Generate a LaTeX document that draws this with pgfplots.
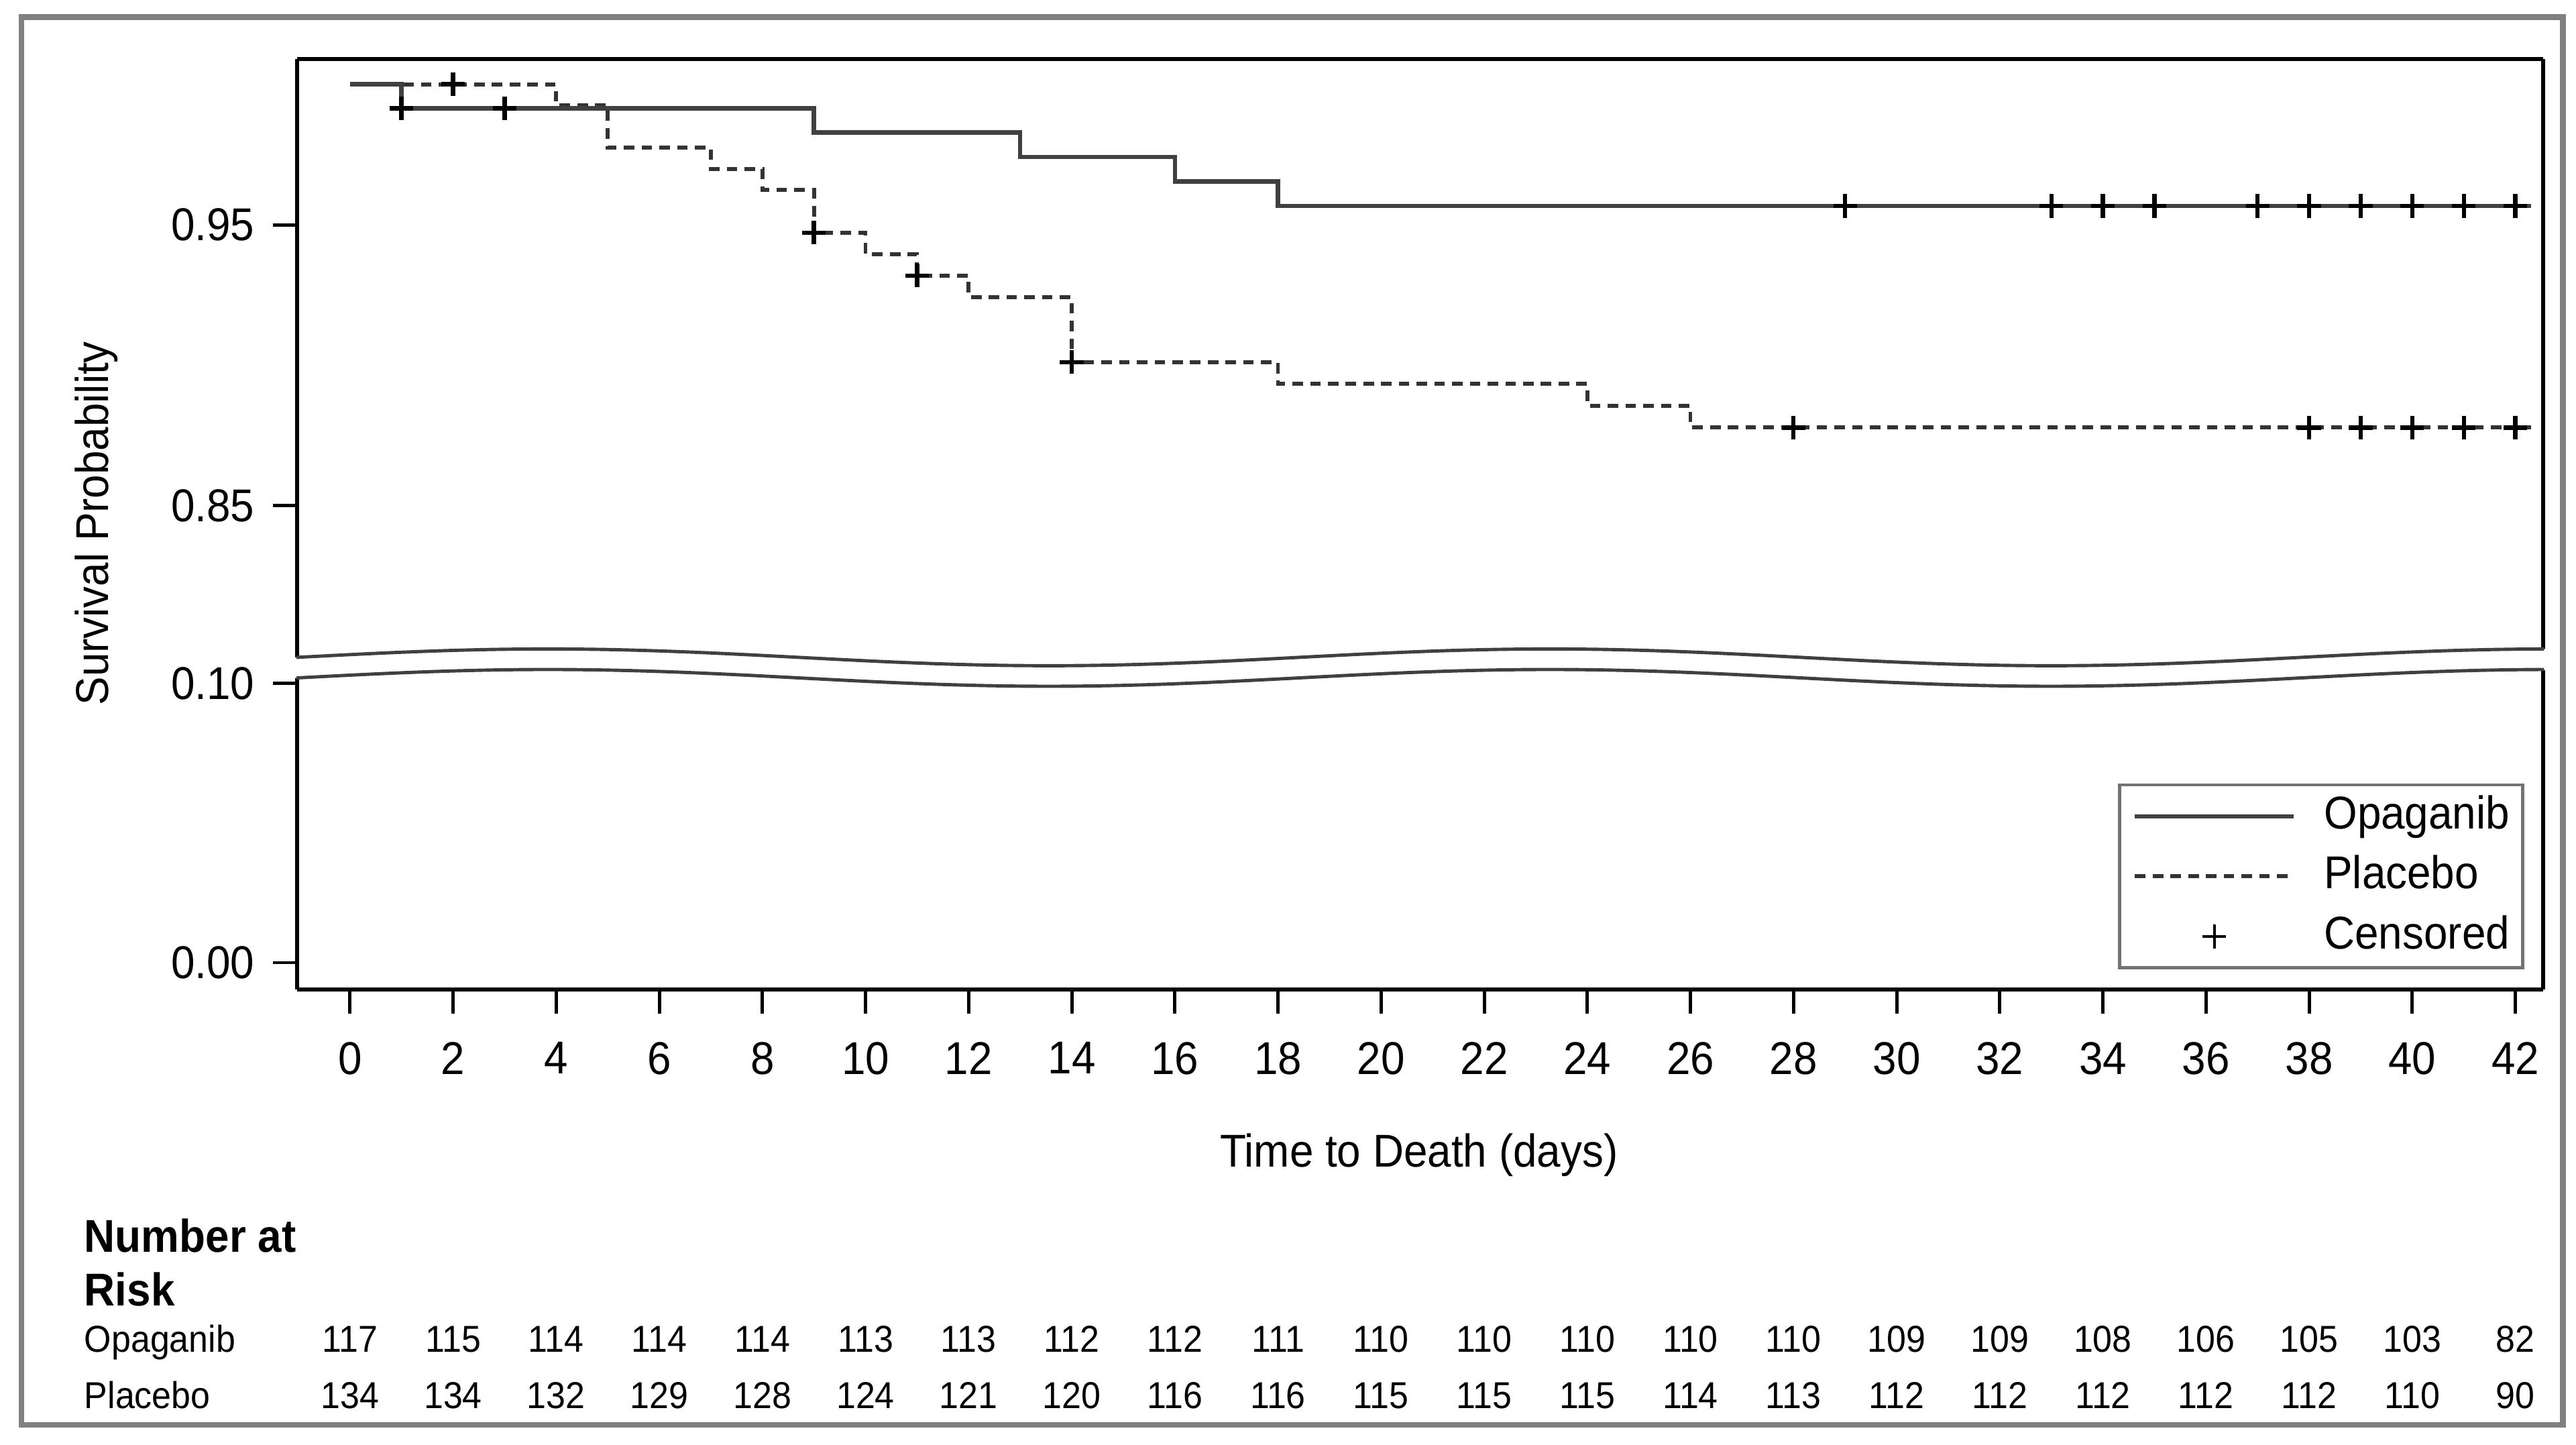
\documentclass[border=0pt]{standalone}
\usepackage{fontspec}
\setmainfont{Liberation Sans}[FakeStretch=0.93]
\usepackage{pgfplots}
\pgfplotsset{compat=1.18}
\newcommand{\axfont}{\fontsize{14}{16.8}\selectfont}
\newcommand{\tabfont}{\fontsize{11.4}{13.6}\selectfont}
\pgfplotsset{
  mylineleg/.style={legend image code/.code={\path[draw=none,fill=none] (0pt,-3.75pt) rectangle (48.3pt,3.75pt); \draw[##1] (0pt,0pt) -- (48.3pt,0pt);}},
  mymarkleg/.style={legend image code/.code={\path[draw=none,fill=none] (0pt,-3.75pt) rectangle (48.3pt,3.75pt); \draw[##1] plot coordinates {(24.15pt,0pt)};}},
}
\begin{document}
\begin{tikzpicture}[x=0.5pt,y=-0.5pt]
\useasboundingbox (0,0) rectangle (1568,879);
\fill[white] (0,0) rectangle (1568,879);
\draw[line width=1.75pt, color=black!50] (13,10.5) rectangle (1560,867);

% upper panel
\begin{axis}[
  at={(90.5pt,-200pt)}, anchor=south west,
  scale only axis, width=683.5pt, height=182pt,
  xmin=-1.02, xmax=42.54, ymin=0.79602, ymax=1.00895,
  axis x line*=top, axis y line*=box,
  xtick=\empty,
  ytick={0.85,0.95}, yticklabels={0.85,0.95},
  ytick pos=left,
  tick align=outside, major tick length=7.4pt,
  tick style={black, line width=1pt},
  axis line style={black, line width=1.2pt},
  yticklabel style={font=\axfont, inner sep=0pt, xshift=-5.5pt},
]
\addplot[const plot, black!80, line width=1.2pt, dash pattern=on 3.2pt off 2.2pt] coordinates {
(0,1.0) (4,0.99254) (5,0.97750) (7,0.96992) (8,0.96234) (9,0.94719) (10,0.93956)
(11,0.93192) (12,0.92422) (14,0.90111) (18,0.89334) (24,0.88557) (26,0.87780) (42.3,0.87780)};
\addplot[const plot, black!75, line width=1.3pt] coordinates {
(0,1.0) (1,0.99145) (9,0.98283) (13,0.97413) (16,0.96543) (18,0.95673) (42.3,0.95673)};
\addplot[only marks, black, mark=+, mark size=3.6pt, mark options={line width=1.3pt}] coordinates {
(1,0.99145) (3,0.99145) (29,0.95673) (33,0.95673) (34,0.95673) (35,0.95673) (37,0.95673)
(38,0.95673) (39,0.95673) (40,0.95673) (41,0.95673) (42,0.95673)};
\addplot[only marks, black, mark=+, mark size=3.6pt, mark options={line width=1.3pt}] coordinates {
(2,1.0) (9,0.94719) (11,0.93192) (14,0.90111) (28,0.87780) (38,0.87780) (39,0.87780)
(40,0.87780) (41,0.87780) (42,0.87780)};
\end{axis}

% lower panel
\begin{axis}[
  at={(90.5pt,-301pt)}, anchor=south west,
  scale only axis, width=683.5pt, height=97pt,
  xmin=-1.02, xmax=42.54, ymin=-0.00953, ymax=0.10465,
  axis x line*=bottom, axis y line*=box,
  xtick={0,2,...,42},
  ytick={0,0.1}, yticklabels={0.00,0.10},
  tick pos=left,
  tick align=outside, major tick length=7.4pt,
  tick style={black, line width=1pt},
  axis line style={black, line width=1.2pt},
  /pgf/number format/assume math mode=true,
  xticklabel style={font=\axfont, inner sep=0pt, yshift=-8.5pt},
  yticklabel style={font=\axfont, inner sep=0pt, xshift=-5.5pt},
  legend style={at={(0.99166,0.06186)}, anchor=south east, draw=black!55, line width=1pt,
    fill=white, inner xsep=4pt, inner ysep=2.8pt, font=\axfont,
    nodes={inner sep=0pt, text height=10.5pt, text depth=3pt},
    row sep=4.8pt, column sep=8.6pt, cells={anchor=west}},
]
\addlegendimage{mylineleg, black!75, line width=1.3pt}
\addlegendentry{Opaganib}
\addlegendimage{mylineleg, black!80, line width=1.2pt, dash pattern=on 3.2pt off 2.2pt}
\addlegendentry{Placebo}
\addlegendimage{mymarkleg, black, only marks, mark=+, mark size=3.6pt, mark options={line width=0.9pt}}
\addlegendentry{Censored}
\end{axis}

% axis break
\begin{scope}
\clip (175,380) rectangle (1554,430);
\fill[white] (28.5,405.1) cos (181,400) sin (333.5,394.9) cos (486,400) sin (638.5,405.1) cos (791,400) sin (943.5,394.9) cos (1096,400) sin (1248.5,405.1) cos (1401,400) sin (1553.5,394.9) cos (1706,400)
 -- (1706,412.5) sin (1553.5,407.4) cos (1401,412.5) sin (1248.5,417.6) cos (1096,412.5) sin (943.5,407.4) cos (791,412.5) sin (638.5,417.6) cos (486,412.5) sin (333.5,407.4) cos (181,412.5) sin (28.5,417.6) -- cycle;
\end{scope}
\begin{scope}
\clip (180.5,380) rectangle (1548.5,430);
\draw[black!75, line width=1pt] (28.5,405.1) cos (181,400) sin (333.5,394.9) cos (486,400) sin (638.5,405.1) cos (791,400) sin (943.5,394.9) cos (1096,400) sin (1248.5,405.1) cos (1401,400) sin (1553.5,394.9) cos (1706,400);
\draw[black!75, line width=1pt] (28.5,417.6) cos (181,412.5) sin (333.5,407.4) cos (486,412.5) sin (638.5,417.6) cos (791,412.5) sin (943.5,407.4) cos (1096,412.5) sin (1248.5,417.6) cos (1401,412.5) sin (1553.5,407.4) cos (1706,412.5);
\end{scope}

% labels
\node[font=\axfont, anchor=base] at (863.7,710.3) {Time to Death (days)};
\node[font=\axfont, anchor=base, rotate=90] at (66,318.5) {Survival Probability};

% number at risk
\node[font=\axfont\bfseries, anchor=base west, inner sep=0pt] at (51,762) {Number at};
\node[font=\axfont\bfseries, anchor=base west, inner sep=0pt] at (51,794.7) {Risk};
\node[font=\tabfont, anchor=base west, inner sep=0pt] at (51,822.6) {Opaganib};
\node[font=\tabfont, anchor=base west, inner sep=0pt] at (51,857) {Placebo};
\foreach \v [count=\i from 0] in {117,115,114,114,114,113,113,112,112,111,110,110,110,110,110,109,109,108,106,105,103,82}
  \node[font=\tabfont, anchor=base, inner sep=0pt] at ({213+62.762*\i},822.6) {\v};
\foreach \v [count=\i from 0] in {134,134,132,129,128,124,121,120,116,116,115,115,115,114,113,112,112,112,112,112,110,90}
  \node[font=\tabfont, anchor=base, inner sep=0pt] at ({213+62.762*\i},857) {\v};
\end{tikzpicture}
\end{document}
